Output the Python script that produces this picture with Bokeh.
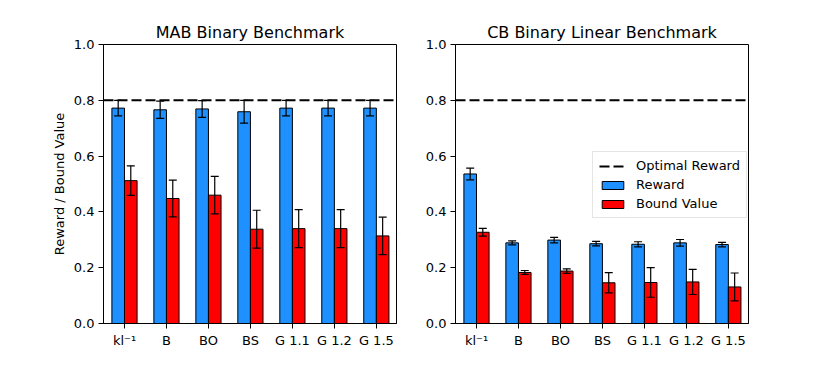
from bokeh.plotting import figure
from bokeh.models import (Range1d, FixedTicker, Whisker, TeeHead, ColumnDataSource,
                          Legend, LegendItem, NumeralTickFormatter)
from bokeh.layouts import row
from bokeh.embed import file_html
from bokeh.resources import INLINE

categories = ["kl⁻¹", "B", "BO", "BS", "G 1.1", "G 1.2", "G 1.5"]
mab_reward = [0.772, 0.766, 0.769, 0.759, 0.772, 0.772, 0.772]
mab_reward_err = [0.028, 0.031, 0.030, 0.041, 0.028, 0.028, 0.028]
mab_bound = [0.512, 0.448, 0.460, 0.338, 0.340, 0.340, 0.314]
mab_bound_err = [0.053, 0.066, 0.067, 0.068, 0.068, 0.068, 0.067]
cb_reward = [0.536, 0.289, 0.299, 0.286, 0.284, 0.289, 0.283]
cb_reward_err = [0.021, 0.007, 0.010, 0.008, 0.009, 0.012, 0.008]
cb_bound = [0.327, 0.183, 0.188, 0.146, 0.147, 0.149, 0.131]
cb_bound_err = [0.014, 0.007, 0.008, 0.036, 0.053, 0.045, 0.050]
optimal_reward = 0.8
y_ticks = [0.0, 0.2, 0.4, 0.6, 0.8, 1.0]

FONT = "DejaVu Sans"
BLUE = "#1E90FF"
RED = "#FF0000"
BAR_W = 0.3
X_START, X_END = -0.5, 6.48


def make_panel(title, reward, reward_err, bound, bound_err, left_border, ylabel, legend):
    idx = list(range(len(categories)))
    p = figure(frame_width=293, frame_height=279, output_backend="svg",
               toolbar_location=None, title=title,
               x_range=Range1d(X_START, X_END), y_range=Range1d(0, 1))
    p.min_border_left = left_border
    p.min_border_right = 20
    p.min_border_top = 44
    p.min_border_bottom = 36
    p.background_fill_color = "white"
    p.border_fill_color = "white"
    p.outline_line_color = "black"
    p.outline_line_alpha = 1
    p.outline_line_width = 1
    p.grid.visible = False

    p.title.text_font = FONT
    p.title.text_font_size = "16px"
    p.title.text_font_style = "normal"
    p.title.text_color = "black"
    p.title.align = "center"
    p.title.offset = 0
    p.title.standoff = 6

    for ax in (p.xaxis[0], p.yaxis[0]):
        ax.major_label_text_font = FONT
        ax.major_label_text_font_size = "13px"
        ax.major_label_text_color = "black"
        ax.axis_line_color = "black"
        ax.major_tick_line_color = "black"
        ax.major_tick_out = 5
        ax.major_tick_in = 0
        ax.minor_tick_line_color = None
        ax.major_label_standoff = 4

    p.xaxis.ticker = FixedTicker(ticks=idx)
    p.xaxis.major_label_overrides = {i: c for i, c in enumerate(categories)}
    p.yaxis.ticker = FixedTicker(ticks=y_ticks)
    p.yaxis.formatter = NumeralTickFormatter(format="0.0")
    if ylabel:
        p.yaxis.axis_label = ylabel
        p.yaxis.axis_label_text_font = FONT
        p.yaxis.axis_label_text_font_size = "13px"
        p.yaxis.axis_label_text_font_style = "normal"
        p.yaxis.axis_label_text_color = "black"
        p.yaxis.axis_label_standoff = 4

    src = ColumnDataSource(dict(
        xr=[i - BAR_W / 2 for i in idx], xb=[i + BAR_W / 2 for i in idx],
        r=reward, b=bound,
        r_up=[v + e for v, e in zip(reward, reward_err)],
        r_lo=[v - e for v, e in zip(reward, reward_err)],
        b_up=[v + e for v, e in zip(bound, bound_err)],
        b_lo=[v - e for v, e in zip(bound, bound_err)],
    ))

    opt = p.line([X_START, X_END], [optimal_reward, optimal_reward],
                 line_color="black", line_width=2, line_dash="10 4")
    rr = p.vbar(x="xr", top="r", width=BAR_W, source=src, fill_color=BLUE,
                line_color="black", line_width=1)
    br = p.vbar(x="xb", top="b", width=BAR_W, source=src, fill_color=RED,
                line_color="black", line_width=1)

    for base, up, lo in (("xr", "r_up", "r_lo"), ("xb", "b_up", "b_lo")):
        w = Whisker(base=base, upper=up, lower=lo, source=src, dimension="height",
                    line_color="black", line_width=1.2, level="overlay",
                    upper_head=TeeHead(size=8, line_color="black", line_width=1.2),
                    lower_head=TeeHead(size=8, line_color="black", line_width=1.2))
        p.add_layout(w)

    if legend:
        lg = Legend(items=[LegendItem(label="Optimal Reward", renderers=[opt]),
                           LegendItem(label="Reward", renderers=[rr]),
                           LegendItem(label="Bound Value", renderers=[br])],
                    location=(137, 105))
        lg.label_text_font = FONT
        lg.label_text_font_size = "13px"
        lg.label_text_color = "black"
        lg.glyph_width = 27
        lg.glyph_height = 10
        lg.label_height = 14
        lg.spacing = 4
        lg.padding = 6
        lg.margin = 0
        lg.label_standoff = 10
        lg.border_line_color = "#cccccc"
        lg.border_line_width = 1
        lg.background_fill_alpha = 0.8
        lg.level = "overlay"
        p.add_layout(lg)
    return p


p1 = make_panel("MAB Binary Benchmark", mab_reward, mab_reward_err, mab_bound,
                mab_bound_err, 103, "Reward / Bound Value", False)
p2 = make_panel("CB Binary Linear Benchmark", cb_reward, cb_reward_err, cb_bound,
                cb_bound_err, 39, None, True)

layout = row(p1, p2)
open("out.html", "w").write(file_html(layout, INLINE))
